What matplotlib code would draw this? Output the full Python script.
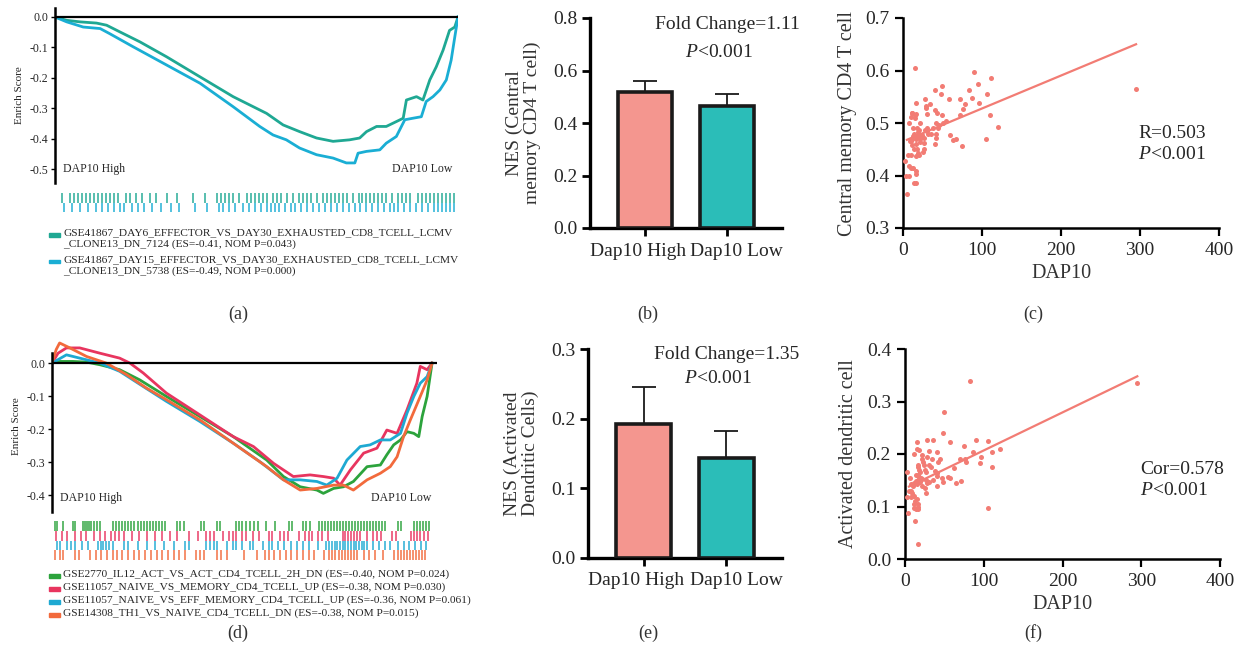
import numpy as np
import matplotlib
matplotlib.use("Agg")
import matplotlib.pyplot as plt
from matplotlib.patches import Rectangle

plt.rcParams['font.family'] = ['Liberation Serif', 'DejaVu Serif']
plt.rcParams['mathtext.fontset'] = 'custom'
plt.rcParams['mathtext.rm'] = 'Liberation Serif'
plt.rcParams['mathtext.it'] = 'Liberation Serif:italic'
plt.rcParams['axes.unicode_minus'] = False

W, H = 1241, 663

# ---------- panel (a): GSEA curves ----------
a_x_day6 = [0, 2.9, 6.2, 10.3, 12.8, 16.1, 21.1, 27.7, 36.0, 44.2, 52.5, 56.6, 60.7, 64.9, 69.0,
            73.1, 75.6, 77.3, 79.8, 82.2, 84.7, 86.4, 87.2, 89.7, 91.3, 93.0, 94.6, 96.3, 97.9, 99.2, 100]
a_es_day6 = [0, -0.011, -0.016, -0.020, -0.027, -0.049, -0.082, -0.131, -0.197, -0.262, -0.317, -0.355,
             -0.377, -0.398, -0.409, -0.404, -0.398, -0.377, -0.360, -0.360, -0.344, -0.333, -0.273,
             -0.262, -0.273, -0.207, -0.164, -0.109, -0.044, -0.033, 0]
a_x_day15 = [0, 2.9, 7.0, 11.2, 13.6, 19.4, 27.7, 36.0, 44.2, 50.8, 54.1, 57.4, 60.7, 64.9, 69.0, 72.3,
             74.4, 75.2, 77.3, 80.6, 82.2, 84.7, 86.8, 88.8, 90.9, 92.1, 93.8, 95.5, 97.1, 98.3, 99.2, 100]
a_es_day15 = [0, -0.016, -0.033, -0.038, -0.055, -0.098, -0.158, -0.218, -0.295, -0.360, -0.388, -0.404,
              -0.431, -0.453, -0.464, -0.480, -0.480, -0.448, -0.442, -0.437, -0.415, -0.393, -0.338,
              -0.333, -0.328, -0.278, -0.262, -0.240, -0.207, -0.142, -0.066, 0]
a_hits_day15 = [0.5, 2.5, 3.5, 4.5, 5.5, 6.5, 7.5, 8.5, 9.5, 10.5, 11.5, 12.5, 13.5, 14.5, 16.5, 17.5, 19,
                20.5, 22.5, 24, 27, 29.5, 33.5, 36.5, 39.5, 40.5, 41.5, 42.5, 43.5, 45, 47, 48, 49, 50,
                51, 52, 53.5, 54.5, 55.5, 57, 58.5, 60, 61, 62, 63, 64.5, 66, 67, 68, 69, 70, 71, 72,
                73.5, 75, 76, 77, 78, 79, 80, 81, 82, 83.5, 85, 86, 87, 88, 90, 91, 92, 93, 94, 95, 96,
                97, 98, 99]
a_hits_day6 = [1, 3, 5, 7, 9, 10.5, 12, 13.5, 15, 16, 18, 19.5, 21, 23, 25.5, 28, 30, 34, 37, 40, 41,
               42.5, 44, 46, 47.5, 49, 50.5, 52, 53, 54, 55, 56.5, 58, 59, 60.5, 62, 63.5, 65, 66.5, 68,
               69.5, 71, 72.5, 74, 75.5, 77, 78.5, 80, 81.5, 83, 84, 85, 86.5, 88, 89.5, 91, 92.5, 94,
               95, 96, 97, 98, 99]
a_labels = ["GSE41867_DAY6_EFFECTOR_VS_DAY30_EXHAUSTED_CD8_TCELL_LCMV\n_CLONE13_DN_7124 (ES=-0.41, NOM P=0.043)",
            "GSE41867_DAY15_EFFECTOR_VS_DAY30_EXHAUSTED_CD8_TCELL_LCMV\n_CLONE13_DN_5738 (ES=-0.49, NOM P=0.000)"]
a_colors = ['#1fa893', '#1aaed4']

# ---------- panel (d): GSEA curves ----------
d_x_2770 = [0, 2.0, 5.5, 9.1, 12.6, 17.8, 23.1, 30.1, 38.9, 47.7, 56.5, 60.9, 65.3, 69.7, 71.4, 74.1,
            76.7, 79.3, 82.9, 86.4, 88.1, 89.9, 91.7, 93.4, 95.2, 96.5, 97.4, 98.7, 100]
d_es_2770 = [0, 0.005, 0.005, 0.003, -0.005, -0.020, -0.051, -0.101, -0.162, -0.223, -0.294, -0.344,
             -0.375, -0.385, -0.395, -0.380, -0.375, -0.359, -0.314, -0.309, -0.278, -0.248, -0.233,
             -0.208, -0.213, -0.223, -0.162, -0.101, 0]
d_x_mem = [0, 1.6, 3.8, 7.3, 12.6, 17.8, 20.5, 24.0, 30.1, 38.9, 47.7, 53.0, 58.3, 63.5, 67.9, 71.4,
           74.1, 75.8, 78.5, 82.0, 85.5, 88.1, 90.8, 93.4, 96.0, 96.9, 98.7, 100]
d_es_mem = [0, 0.030, 0.046, 0.046, 0.030, 0.015, 0, -0.030, -0.091, -0.157, -0.223, -0.253, -0.304,
            -0.344, -0.339, -0.344, -0.349, -0.370, -0.324, -0.273, -0.258, -0.203, -0.213, -0.142,
            -0.061, -0.010, -0.020, 0]
d_x_eff = [0, 3.8, 7.3, 12.6, 17.8, 24.0, 30.1, 38.9, 47.7, 54.7, 60.9, 65.3, 69.7, 72.3, 75.0, 77.6,
           81.1, 83.7, 86.4, 89.0, 91.7, 93.4, 95.2, 96.9, 98.7, 100]
d_es_eff = [0, 0.025, 0.015, 0, -0.025, -0.071, -0.116, -0.177, -0.243, -0.299, -0.354, -0.354, -0.359,
            -0.370, -0.349, -0.294, -0.253, -0.248, -0.233, -0.233, -0.213, -0.152, -0.101, -0.061,
            -0.041, 0]
d_x_th1 = [0, 1.1, 2.0, 4.7, 9.1, 14.3, 19.6, 24.9, 30.1, 38.9, 47.7, 56.5, 60.9, 65.3, 69.7, 74.1,
           76.7, 79.3, 82.9, 86.4, 89.0, 90.8, 92.5, 94.3, 96.9, 98.7, 100]
d_es_th1 = [0, 0.041, 0.061, 0.046, 0.020, 0, -0.035, -0.076, -0.111, -0.172, -0.243, -0.314, -0.354,
            -0.385, -0.380, -0.370, -0.370, -0.385, -0.354, -0.334, -0.314, -0.284, -0.223, -0.172,
            -0.101, -0.051, 0]
d_hits_2770 = [0.8, 1.3, 2.9, 5.5, 6.1, 8.2, 8.7, 9.2, 9.7, 10.3, 11.1, 11.8, 12.6, 16.1, 16.8, 17.6,
               18.4, 19.2, 20, 20.8, 21.6, 22.6, 23.4, 24.2, 25, 25.8, 26.6, 27.4, 28.2, 28.9, 29.7,
               32.9, 33.7, 34.7, 39.2, 40, 43.4, 44.2, 48.4, 49.2, 50, 51, 52.1, 53.2, 54.2, 56.3,
               58.7, 62.4, 63.2, 66, 66.8, 67.9, 70.3, 71, 71.8, 72.6, 73.4, 74.2, 75, 75.8, 76.6,
               77.4, 78.2, 78.9, 79.7, 80.5, 81.3, 82.1, 82.9, 83.7, 84.5, 85.3, 86.1, 86.8, 87.6,
               91, 91.8, 95.3, 96.1, 96.8, 97.6, 98.4, 99.2]
d_hits_mem = [1, 2.5, 4, 6, 7.5, 9, 11, 12.5, 14, 15.5, 16.5, 17.5, 19, 21, 23, 25, 27, 29, 31, 33, 36,
              38.5, 40.5, 41.5, 42.5, 45, 46.5, 47.5, 48.5, 50, 51, 53, 54.5, 57, 58, 60, 61, 62, 65,
              66.5, 67.5, 68.5, 70, 71, 72.5, 76.5, 77.2, 78, 78.7, 79.5, 80.2, 81, 83, 84.5, 85.5,
              86.5, 89.5, 90.5, 94.5, 95.3, 96, 96.8, 98, 99]
d_hits_eff = [1.2, 2, 4, 5, 6, 8, 9.5, 12, 12.8, 13.5, 14.2, 15, 16, 19, 20, 22.5, 25, 27, 29.5, 32,
              35, 36, 40.5, 41.5, 42.5, 43.5, 46, 47.5, 48.5, 50, 52, 53, 55.5, 57, 58, 59.5, 61, 63,
              64.5, 66, 67.5, 70, 72, 73, 73.7, 74.4, 75.1, 75.8, 76.5, 77.2, 78, 78.7, 79.4, 80.1,
              80.8, 81.5, 82.2, 83, 84.5, 86, 87.5, 89, 91, 92.5, 94, 95.5, 97, 98.5]
d_hits_th1 = [0.8, 2, 3, 6, 7, 10, 11.5, 13, 14.5, 16, 17, 18.5, 20, 21.5, 23, 24.5, 26, 27.5, 29,
              30.5, 32, 33.5, 35, 38, 39, 40, 43.5, 44.5, 46, 50.5, 54, 56, 57, 58.5, 60, 61.5, 63,
              64.5, 66, 67.5, 69, 71.5, 73, 73.8, 74.6, 75.4, 76.2, 77, 77.8, 78.6, 79.4, 80.2, 82,
              83.5, 85, 87, 90, 91, 91.8, 92.6, 93.4, 94.2, 95, 95.8, 96.6, 97.4, 98.2]
d_labels = ["GSE2770_IL12_ACT_VS_ACT_CD4_TCELL_2H_DN (ES=-0.40, NOM P=0.024)",
            "GSE11057_NAIVE_VS_MEMORY_CD4_TCELL_UP (ES=-0.38, NOM P=0.030)",
            "GSE11057_NAIVE_VS_EFF_MEMORY_CD4_TCELL_UP (ES=-0.36, NOM P=0.061)",
            "GSE14308_TH1_VS_NAIVE_CD4_TCELL_DN (ES=-0.38, NOM P=0.015)"]
d_colors = ['#2ca33c', '#e8355f', '#1ea9d2', '#f26a3c']

# ---------- bars (b), (e) ----------
groups = ["Dap10 High", "Dap10 Low"]
b_mean = [0.52, 0.465]
b_err = [0.04, 0.047]
e_mean = [0.193, 0.143]
e_err = [0.052, 0.040]
bar_colors = ['#f4968f', '#2bbdb8']

# ---------- scatter (c) ----------
c_dap10 = [15, 5, 3, 4, 8, 7, 10, 13, 14, 17, 17, 16, 8, 10, 10, 11, 10, 12, 13, 14, 14, 15, 15, 16,
           16, 16, 17, 17, 18, 18, 19, 19, 20, 20, 22, 22, 24, 25, 27, 27, 28, 28, 29, 29, 30, 30,
           31, 32, 34, 35, 40, 41, 41, 42, 42, 43, 42, 46, 48, 49, 49, 51, 55, 58, 59, 63, 67, 72,
           72, 75, 76, 78, 84, 87, 90, 95, 96, 105, 106, 110, 111, 120, 295, 6, 9, 12, 13, 21, 23,
           38, 44, 18, 12, 20, 26]
c_cm = [0.605, 0.365, 0.427, 0.40, 0.40, 0.418, 0.415, 0.415, 0.385, 0.385, 0.402, 0.408, 0.50, 0.44,
        0.465, 0.52, 0.512, 0.458, 0.475, 0.48, 0.45, 0.515, 0.51, 0.538, 0.47, 0.437, 0.517, 0.46,
        0.49, 0.45, 0.482, 0.442, 0.487, 0.476, 0.50, 0.463, 0.478, 0.445, 0.462, 0.45, 0.545, 0.487,
        0.533, 0.528, 0.518, 0.485, 0.49, 0.48, 0.537, 0.48, 0.563, 0.525, 0.46, 0.50, 0.48, 0.52,
        0.472, 0.497, 0.555, 0.57, 0.516, 0.50, 0.503, 0.546, 0.477, 0.467, 0.47, 0.545, 0.516,
        0.457, 0.527, 0.537, 0.563, 0.548, 0.597, 0.575, 0.538, 0.47, 0.556, 0.516, 0.585, 0.492,
        0.564, 0.44, 0.465, 0.47, 0.49, 0.47, 0.475, 0.49, 0.49, 0.475, 0.52, 0.44, 0.472]
c_fit_x = [5, 295]
c_fit_y = [0.468, 0.650]

# ---------- scatter (f) ----------
f_dap10 = [83, 50, 48, 295, 28, 35, 15, 57, 90, 106, 75, 15, 18, 12, 21, 31, 40, 86, 110, 120, 22, 23,
           28, 30, 34, 42, 45, 70, 76, 77, 95, 96, 110, 16, 17, 18, 25, 27, 33, 38, 40, 41, 47, 55,
           57, 62, 3, 14, 16, 18, 20, 22, 27, 28, 30, 40, 48, 65, 71, 6, 8, 10, 12, 14, 15, 17, 19,
           21, 25, 27, 5, 7, 3, 9, 10, 11, 12, 13, 15, 16, 17, 14, 16, 12, 4, 13, 17, 105, 8, 19,
           24, 36]
f_adc = [0.34, 0.28, 0.24, 0.335, 0.227, 0.227, 0.222, 0.222, 0.227, 0.225, 0.215, 0.21, 0.208, 0.20,
         0.198, 0.205, 0.204, 0.203, 0.203, 0.21, 0.19, 0.185, 0.195, 0.18, 0.19, 0.185, 0.19, 0.19,
         0.19, 0.185, 0.183, 0.195, 0.175, 0.18, 0.175, 0.17, 0.17, 0.165, 0.175, 0.168, 0.158, 0.163,
         0.155, 0.157, 0.155, 0.174, 0.165, 0.16, 0.16, 0.157, 0.155, 0.152, 0.15, 0.145, 0.146,
         0.14, 0.147, 0.145, 0.148, 0.155, 0.142, 0.14, 0.145, 0.148, 0.143, 0.15, 0.146, 0.14,
         0.135, 0.125, 0.13, 0.118, 0.118, 0.125, 0.12, 0.105, 0.12, 0.11, 0.115, 0.105, 0.1, 0.095,
         0.095, 0.098, 0.087, 0.072, 0.028, 0.097, 0.13, 0.165, 0.18, 0.15]
f_fit_x = [5, 295]
f_fit_y = [0.138, 0.348]

dot_color = '#f27c74'
txt = '#262626'

fig = plt.figure(figsize=(W / 100, H / 100), dpi=100)


def px_axes(l, t, r, b):
    return fig.add_axes([l / W, 1 - b / H, (r - l) / W, (b - t) / H])


def gsea_panel(box, xmax, ylim, yticks, curves, colors, rug_box, hits, label_top, labels, legend_y):
    ax = px_axes(*box)
    for (x, es), c in zip(curves, colors):
        ax.plot(x, es, color=c, lw=2.0)
    ax.axhline(0, color='black', lw=1.6)
    ax.set_xlim(0, xmax)
    ax.set_ylim(*ylim)
    for s in ['top', 'right', 'bottom']:
        ax.spines[s].set_visible(False)
    ax.spines['left'].set_linewidth(1.8)
    ax.spines['left'].set_bounds(ylim[0], 0.03)
    ax.set_xticks([])
    ax.set_yticks(yticks)
    ax.set_yticklabels(['%.1f' % v for v in yticks], fontsize=8.5, color=txt)
    ax.tick_params(axis='y', length=3, width=1, pad=2)
    ax.set_ylabel('Enrich Score', fontsize=8, labelpad=4, color=txt)
    ax.text(0.02, label_top, 'DAP10 High', fontsize=8.5, transform=ax.get_yaxis_transform(),
            va='center', color=txt)
    ax.text(0.985, label_top, 'DAP10 Low', fontsize=8.5, transform=ax.get_yaxis_transform(),
            va='center', ha='right', color=txt)

    rug = px_axes(*rug_box)
    n = len(hits)
    for i, (h, c) in enumerate(zip(hits, colors)):
        rug.vlines(h, 1 - (i + 1) / n, 1 - i / n, color=c, lw=1.4, alpha=0.75)
    rug.set_xlim(0, 100)
    rug.set_ylim(0, 1)
    rug.axis('off')

    for lab, c, y in zip(labels, colors, legend_y):
        fig.patches.append(Rectangle((49 / W, 1 - (y + 1.5) / H), 11 / W, 3.5 / H,
                                     color=c, transform=fig.transFigure, figure=fig))
        fig.text(63 / W, 1 - (y - 6.5) / H, lab, fontsize=8.2, va='top', linespacing=1.2, color=txt)
    return ax


gsea_panel((55, 8, 458, 183), 100, (-0.546, 0.0296), [0, -0.1, -0.2, -0.3, -0.4, -0.5],
           [(a_x_day6, a_es_day6), (a_x_day15, a_es_day15)], a_colors,
           (60, 193, 458, 212), [a_hits_day15, a_hits_day6], -0.5, a_labels, [235, 262])
gsea_panel((52, 340, 437, 512), 101.3, (-0.4515, 0.07), [0, -0.1, -0.2, -0.3, -0.4],
           [(d_x_2770, d_es_2770), (d_x_mem, d_es_mem), (d_x_eff, d_es_eff),
            (d_x_th1, d_es_th1)], d_colors,
           (52, 521, 432, 560), [d_hits_2770, d_hits_mem, d_hits_eff, d_hits_th1], -0.41,
           d_labels, [576, 589, 602, 615])


def bar_panel(box, means, errs, ymax, yticks, ylabel, fc_text, fc_y, p_y):
    ax = px_axes(*box)
    x = np.arange(len(groups))
    ax.bar(x, means, width=0.66, color=bar_colors, edgecolor='#1a1a1a', linewidth=2.6, zorder=3)
    ax.errorbar(x, means, yerr=[np.zeros(len(errs)), errs], fmt='none', ecolor='#1a1a1a',
                elinewidth=1.3, capsize=8.5, capthick=1.3, zorder=2)
    ax.set_xlim(-0.67, 1.67)
    ax.set_ylim(0, ymax)
    for s in ['top', 'right']:
        ax.spines[s].set_visible(False)
    for s in ['left', 'bottom']:
        ax.spines[s].set_linewidth(2.4)
    ax.set_xticks(x)
    ax.set_xticklabels([])
    # category labels sit slightly outward from the tick marks, as in the figure
    for xi, g in zip([-0.085, 1.12], groups):
        ax.text(xi, -0.11, g, transform=ax.get_xaxis_transform(), fontsize=14, ha='center',
                va='center', color=txt)
    ax.set_yticks(yticks)
    ax.set_yticklabels(['%.1f' % v for v in yticks], fontsize=14, color=txt)
    ax.tick_params(axis='both', length=6, width=2, pad=3)
    ax.set_ylabel(ylabel, fontsize=14, color='#333333', linespacing=1.05, labelpad=9)
    ax.text(1.0, ymax * fc_y, fc_text, fontsize=14, ha='center', va='center', color=txt)
    ax.text(0.9, ymax * p_y, r'$P$<0.001', fontsize=14, ha='center', va='center', color=txt)
    return ax


bar_panel((590, 18, 782, 228), b_mean, b_err, 0.8, [0, 0.2, 0.4, 0.6, 0.8],
          'NES (Central\nmemory CD4 T cell)', 'Fold Change=1.11', 0.967, 0.838)
bar_panel((588, 349, 782, 558), e_mean, e_err, 0.3, [0, 0.1, 0.2, 0.3],
          'NES (Activated\nDendritic Cells)', 'Fold Change=1.35', 0.976, 0.861)


def scatter_panel(box, xs, ys, fx, fy, ylim, yticks, ylabel, stat_text, stat_pos):
    ax = px_axes(*box)
    ax.scatter(xs, ys, s=13, color=dot_color, linewidths=0, zorder=3)
    ax.plot(fx, fy, color=dot_color, lw=1.6, zorder=2)
    ax.set_xlim(0, 400)
    ax.set_ylim(*ylim)
    for s in ['top', 'right']:
        ax.spines[s].set_visible(False)
    for s in ['left', 'bottom']:
        ax.spines[s].set_linewidth(1.8)
    ax.set_xticks([0, 100, 200, 300, 400])
    ax.set_xticklabels(['0', '100', '200', '300', '400'], fontsize=14, color=txt)
    ax.set_yticks(yticks)
    ax.set_yticklabels(['%.1f' % v for v in yticks], fontsize=14, color=txt)
    ax.tick_params(axis='both', length=6, width=1.6, pad=4)
    ax.set_xlabel('DAP10', fontsize=14.5, color='#333333', labelpad=4)
    ax.set_ylabel(ylabel, fontsize=14.5, color='#333333', labelpad=6)
    ax.text(stat_pos[0], stat_pos[1], stat_text, transform=ax.transAxes, fontsize=14, va='center',
            linespacing=1.25, color=txt)
    return ax


scatter_panel((903, 18, 1219, 228), c_dap10, c_cm, c_fit_x, c_fit_y, (0.3, 0.7),
              [0.3, 0.4, 0.5, 0.6, 0.7], 'Central memory CD4 T cell', 'R=0.503\n$P$<0.001',
              (0.744, 0.40))
scatter_panel((905, 349, 1220, 559), f_dap10, f_adc, f_fit_x, f_fit_y, (0.0, 0.4),
              [0.0, 0.1, 0.2, 0.3, 0.4], 'Activated dendritic cell', 'Cor=0.578\n$P$<0.001',
              (0.746, 0.376))

for lab, x, y in [('(a)', 238, 314), ('(b)', 648, 314), ('(c)', 1033, 314),
                  ('(d)', 238, 633), ('(e)', 648, 633), ('(f)', 1033, 633)]:
    fig.text(x / W, 1 - y / H, lab, fontsize=13, ha='center', va='center', color='#333333')

fig.savefig('out.png', dpi=100)
